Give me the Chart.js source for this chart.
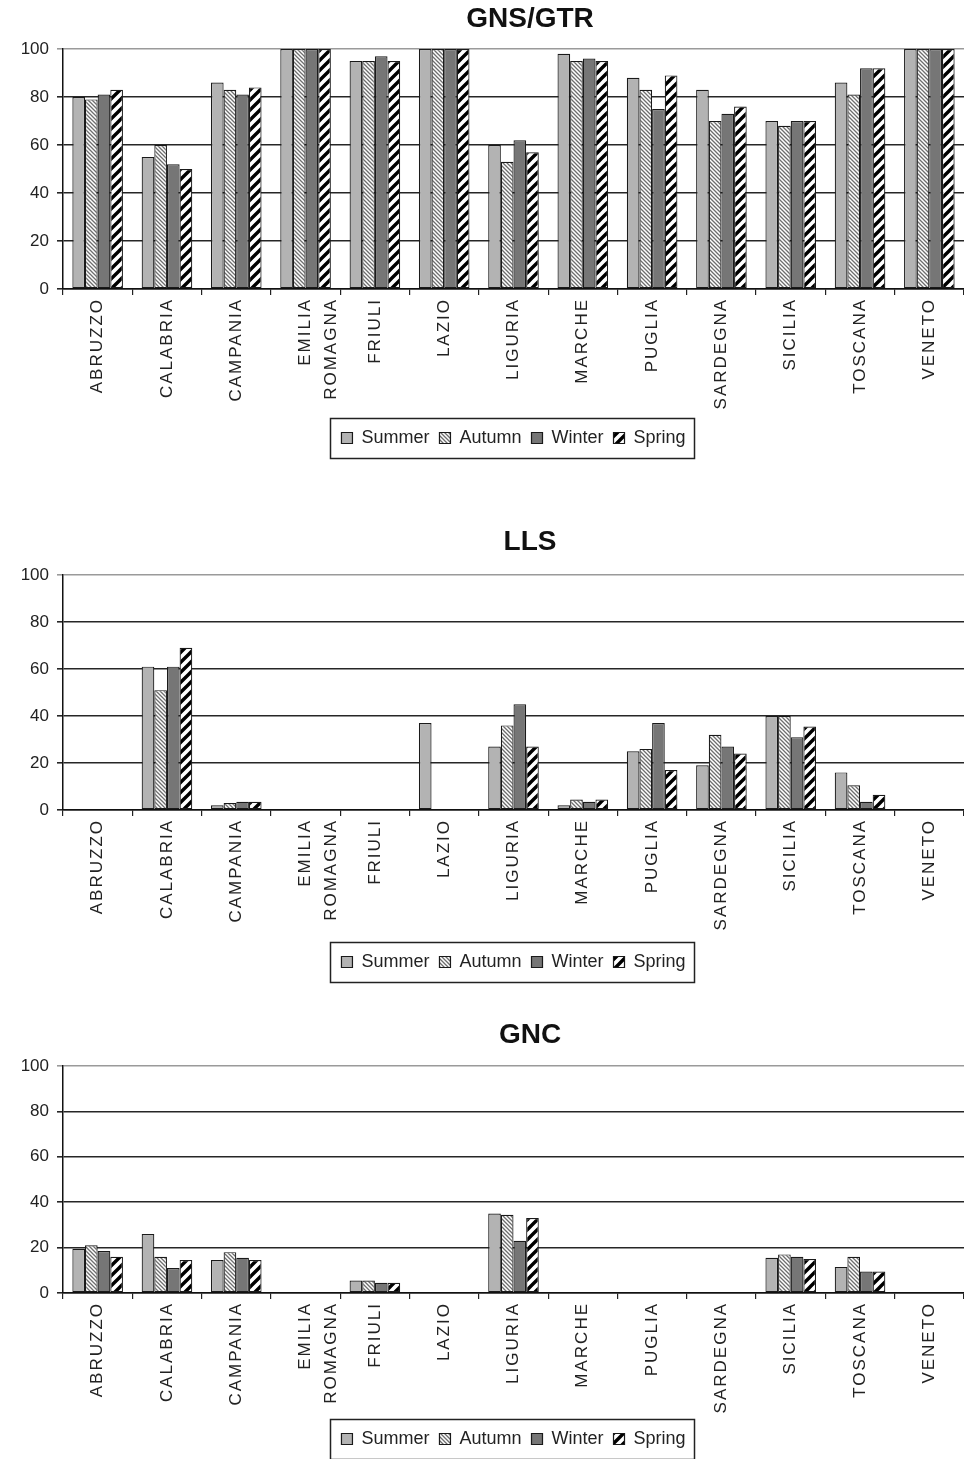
<!DOCTYPE html>
<html>
<head>
<meta charset="utf-8">
<script src="https://cdn.jsdelivr.net/npm/chart.js@4.4.0/dist/chart.umd.min.js"></script>
<style>
  html, body { margin: 0; padding: 0; background: #fff; }
  body { width: 964px; height: 1459px; position: relative; overflow: hidden; }
  .box { position: absolute; left: 0; width: 964px; }
  canvas { display: block; }
</style>
</head>
<body>
<div class="box" style="top:0px"><canvas id="c1" width="964" height="462"></canvas></div>
<div class="box" style="top:523px"><canvas id="c2" width="964" height="463"></canvas></div>
<div class="box" style="top:1017px"><canvas id="c3" width="964" height="442"></canvas></div>
<script>
// ---- data ----
const categories = ['ABRUZZO', 'CALABRIA', 'CAMPANIA', ['EMILIA', 'ROMAGNA'], 'FRIULI', 'LAZIO', 'LIGURIA', 'MARCHE', 'PUGLIA', 'SARDEGNA', 'SICILIA', 'TOSCANA', 'VENETO'];
const seriesNames = ['Summer', 'Autumn', 'Winter', 'Spring'];
const yTicks = [0, 20, 40, 60, 80, 100];

const titleGNS = 'GNS/GTR';
const gnsSummer = [80, 55, 86, 100, 95, 100, 60, 98, 88, 83, 70, 86, 100];
const gnsAutumn = [79, 60, 83, 100, 95, 100, 53, 95, 83, 70, 68, 81, 100];
const gnsWinter = [81, 52, 81, 100, 97, 100, 62, 96, 75, 73, 70, 92, 100];
const gnsSpring = [83, 50, 84, 100, 95, 100, 57, 95, 89, 76, 70, 92, 100];

const titleLLS = 'LLS';
const llsSummer = [0, 61, 2, 0, 0, 37, 27, 2, 25, 19, 40, 16, 0];
const llsAutumn = [0, 51, 3, 0, 0, 0, 36, 4.5, 26, 32, 40, 10.5, 0];
const llsWinter = [0, 61, 3.5, 0, 0, 0, 45, 3.5, 37, 27, 31, 3.5, 0];
const llsSpring = [0, 69, 3.5, 0, 0, 0, 27, 4.5, 17, 24, 35.5, 6.5, 0];

const titleGNC = 'GNC';
const gncSummer = [19.5, 26, 14.5, 0, 5.5, 0, 35, 0, 0, 0, 15.5, 11.5, 0];
const gncAutumn = [21, 16, 18, 0, 5.5, 0, 34.5, 0, 0, 0, 17, 16, 0];
const gncWinter = [18.5, 11, 15.5, 0, 4.5, 0, 23, 0, 0, 0, 16, 9.5, 0];
const gncSpring = [16, 14.5, 14.5, 0, 4.5, 0, 33, 0, 0, 0, 15, 9.5, 0];

// ---- styles ----
Chart.defaults.font.family = '"Liberation Sans", Arial, sans-serif';
Chart.defaults.color = '#222';

function makePattern(size, bg, fg, lw, dir) {
  const c = document.createElement('canvas');
  c.width = size; c.height = size;
  const g = c.getContext('2d');
  g.fillStyle = bg; g.fillRect(0, 0, size, size);
  g.strokeStyle = fg; g.lineWidth = lw; g.lineCap = 'square';
  g.beginPath();
  for (let k = -1; k <= 1; k++) {
    const o = k * size;
    if (dir === 'back') { g.moveTo(o, 0); g.lineTo(o + size, size); }
    else { g.moveTo(o, size); g.lineTo(o + size, 0); }
  }
  g.stroke();
  return g.createPattern(c, 'repeat');
}
const fillSummer = '#b3b3b3';
const fillAutumn = makePattern(4, '#ffffff', '#6e6e6e', 1.3, 'back');
const fillWinter = '#767676';
const fillSpring = makePattern(10, '#ffffff', '#000000', 3.4, 'fwd');
const fills = [fillSummer, fillAutumn, fillWinter, fillSpring];

const spacingPlugin = {
  id: 'spacing',
  afterLayout(chart) {
    const tb = chart.titleBlock;
    if (tb) { tb.left += 16.5; tb.right += 16.5; }
  },
  afterDatasetsDraw(chart) { chart.ctx.letterSpacing = '2px'; },
  afterDraw(chart) {
    chart.ctx.letterSpacing = '0px';
    const lg = chart.legend;
    if (!lg || !lg.legendHitBoxes || !lg.legendHitBoxes.length) return;
    const hb = lg.legendHitBoxes;
    let l = Infinity, r = -Infinity, t = Infinity, b = -Infinity;
    hb.forEach(h => { l = Math.min(l, h.left); r = Math.max(r, h.left + h.width); t = Math.min(t, h.top); b = Math.max(b, h.top + h.height); });
    const ctx = chart.ctx;
    ctx.save();
    ctx.strokeStyle = '#222';
    ctx.lineWidth = 1.5;
    ctx.strokeRect(Math.round(l - 11) + 0.5, Math.round(t - 11) + 0.5, Math.round(r - l + 20), Math.round(b - t + 22));
    ctx.restore();
  }
};

function makeChart(id, title, series, lay) {
  const datasets = series.map((vals, i) => ({
    label: seriesNames[i],
    data: vals,
    backgroundColor: fills[i],
    borderColor: '#1a1a1a',
    borderWidth: 1.2,
    borderSkipped: false,
    categoryPercentage: 0.73,
    barPercentage: 1.0
  }));
  return new Chart(document.getElementById(id), {
    type: 'bar',
    data: { labels: categories, datasets },
    plugins: [spacingPlugin],
    options: {
      responsive: false,
      animation: false,
      layout: { padding: { top: 0, left: 0, right: 0, bottom: lay.padBottom } },
      plugins: {
        tooltip: { enabled: false },
        title: {
          display: true, text: title, fullSize: false,
          font: { size: 28, weight: 'bold' }, color: '#111',
          padding: { top: lay.titleTop, bottom: lay.titleBottom }
        },
        legend: {
          display: true, position: 'bottom', fullSize: false,
          labels: { boxWidth: 11, boxHeight: 11, padding: 10, font: { size: 18 }, color: '#222' }
        }
      },
      scales: {
        x: {
          offset: true,
          afterFit: (s) => { s.height = lay.xHeight; },
          grid: { drawOnChartArea: false, drawTicks: true, tickLength: 6, color: '#222', lineWidth: 1.2, offset: true },
          border: { display: true, color: '#111', width: 1.5 },
          ticks: { minRotation: 90, maxRotation: 90, autoSkip: false, padding: 3, z: 1,
                   font: { size: 17, lineHeight: 1.5 }, color: '#222' }
        },
        y: {
          min: 0, max: 100,
          afterFit: (s) => { s.width = 63; },
          afterBuildTicks: (s) => { s.ticks = yTicks.map(v => ({ value: v })); },
          grid: {
            drawTicks: true, tickLength: 6, lineWidth: 1.6,
            color: (c) => (c.tick && c.tick.value === 100) ? '#9a9a9a' : '#262626'
          },
          border: { display: true, color: '#111', width: 1.5 },
          ticks: { padding: 8, font: { size: 17 }, color: '#222' }
        }
      }
    }
  });
}

makeChart('c1', titleGNS, [gnsSummer, gnsAutumn, gnsWinter, gnsSpring], { titleTop: 2, titleBottom: 13.4, xHeight: 130, padBottom: 5 });
makeChart('c2', titleLLS, [llsSummer, llsAutumn, llsWinter, llsSpring], { titleTop: 2, titleBottom: 16.4, xHeight: 133, padBottom: 5 });
makeChart('c3', titleGNC, [gncSummer, gncAutumn, gncWinter, gncSpring], { titleTop: 1, titleBottom: 14.4, xHeight: 127, padBottom: 1 });
</script>
</body>
</html>
